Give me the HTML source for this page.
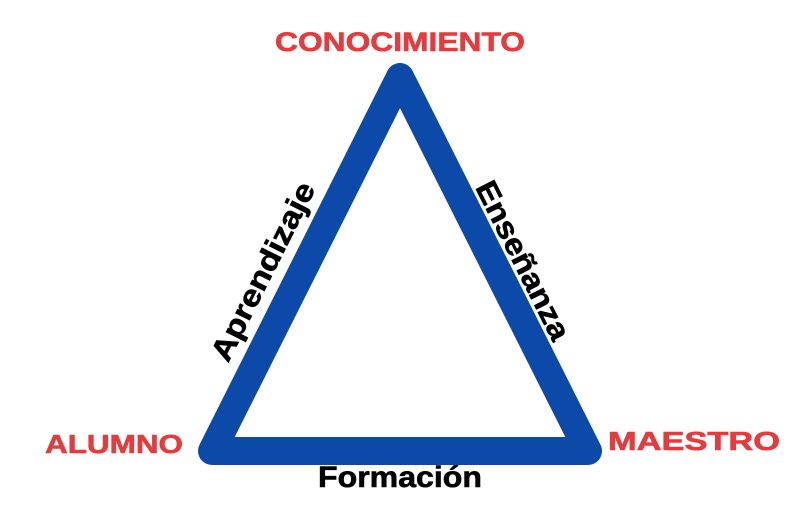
<!DOCTYPE html>
<html><head><meta charset="utf-8"><style>
html,body{margin:0;padding:0;background:#fff;}
body{width:800px;height:500px;overflow:hidden;}
</style></head><body>
<svg width="800" height="500" viewBox="0 0 800 500" xmlns="http://www.w3.org/2000/svg">
<polygon points="400,77 588,451 212,451" fill="none" stroke="#0b4aa8" stroke-width="28" stroke-linejoin="round"/>
<g font-family="Liberation Sans, sans-serif" font-weight="bold" text-anchor="middle" stroke-width="0.6">
<text x="400" y="51" font-size="27" fill="#e8393c" stroke="#e8393c" textLength="250" lengthAdjust="spacingAndGlyphs">CONOCIMIENTO</text>
<text x="114" y="453" font-size="26" fill="#e8393c" stroke="#e8393c" textLength="138" lengthAdjust="spacingAndGlyphs">ALUMNO</text>
<text x="694" y="450" font-size="26" fill="#e8393c" stroke="#e8393c" textLength="172" lengthAdjust="spacingAndGlyphs">MAESTRO</text>
<text x="400" y="487" font-size="30" fill="#000" stroke="#000" textLength="164" lengthAdjust="spacingAndGlyphs">Formación</text>
<text transform="translate(272,276) rotate(-63.3)" font-size="30" fill="#000" stroke="#000" textLength="196" lengthAdjust="spacingAndGlyphs">Aprendizaje</text>
<text transform="translate(514,265) rotate(63.3)" font-size="30" fill="#000" stroke="#000" textLength="174" lengthAdjust="spacingAndGlyphs">Enseñanza</text>
</g>
</svg>
</body></html>
